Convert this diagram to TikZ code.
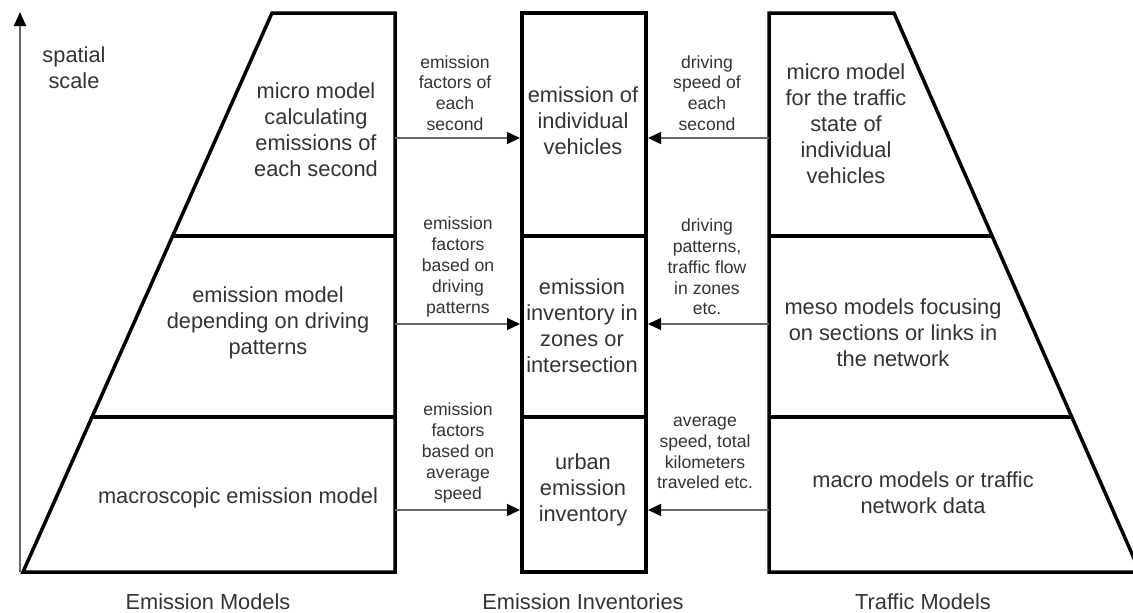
\documentclass[tikz,border=0pt]{standalone}
\usepackage{fontspec}
\setmainfont{Liberation Sans}
\usetikzlibrary{arrows.meta}
\begin{document}
\begin{tikzpicture}[x=1pt,y=-1pt,
  frame/.style={line width=3.5pt, line join=miter, draw=black},
  maintext/.style={align=center, text=black!80, font=\fontsize{21.8}{26}\selectfont, inner sep=0pt},
  lbl/.style={align=center, text=black!80, font=\fontsize{17.6}{20.8}\selectfont, inner sep=0pt},
  conn/.style={draw=black!60, line width=1.3pt, -{Triangle[length=13pt,width=12pt,color=black]}},
  axis/.style={draw=black!60, line width=1.8pt, -{Triangle[length=14pt,width=12pt,color=black]}},
]
\useasboundingbox (0,0) rectangle (1133,613);

% axis
\coordinate (ax0) at (20,572);
\coordinate (ax1) at (20,12);
\draw[axis] (ax0) -- (ax1);
\node[maintext] (spatial) at (74,68) {spatial\\scale};

% left trapezoid (emission models)
\draw[frame] (272,13) -- (395,13) -- (395,572) -- (23,572) -- cycle;
\draw[frame] (172.7,236) -- (395,236);
\draw[frame] (92,417) -- (395,417);

% middle rectangle (emission inventories)
\draw[frame] (522,13) rectangle (646,572);
\draw[frame] (522,236) -- (646,236);
\draw[frame] (522,417) -- (646,417);

% right trapezoid (traffic models)
\draw[frame] (769,13) -- (894,13) -- (1140,572) -- (769,572) -- cycle;
\draw[frame] (769,236) -- (992,236);
\draw[frame] (769,417) -- (1071,417);

% texts
\node[maintext] (L1) at (316,130) {micro model\\calculating\\emissions of\\each second};
\node[maintext] (L2) at (268,323) {emission model\\depending on driving\\patterns};
\node[maintext] (L3) at (238,498) {macroscopic emission model};

\node[maintext] (M1) at (583,121) {emission of\\individual\\vehicles};
\node[maintext] (M2) at (582,326) {emission\\inventory in\\zones or\\intersection};
\node[maintext] (M3) at (583,490) {urban\\emission\\inventory};

\node[maintext] (R1) at (846,124) {micro model\\for the traffic\\state of\\individual\\vehicles};
\node[maintext] (R2) at (893,333) {meso models focusing\\on sections or links in\\the network};
\node[maintext] (R3) at (923,493) {macro models or traffic\\network data};

% connector endpoints
\coordinate (la1) at (395,138);
\coordinate (ma1) at (520,138);
\coordinate (ra1) at (769,138);
\coordinate (mb1) at (648,138);
\coordinate (la2) at (395,324);
\coordinate (ma2) at (520,324);
\coordinate (ra2) at (769,324);
\coordinate (mb2) at (648,324);
\coordinate (la3) at (395,510);
\coordinate (ma3) at (520,510);
\coordinate (ra3) at (769,510);
\coordinate (mb3) at (648,510);

\draw[conn] (la1) -- (ma1);
\draw[conn] (ra1) -- (mb1);
\draw[conn] (la2) -- (ma2);
\draw[conn] (ra2) -- (mb2);
\draw[conn] (la3) -- (ma3);
\draw[conn] (ra3) -- (mb3);

% connector labels
\node[lbl] (a1) at (455,93) {emission\\factors of\\each\\second};
\node[lbl] (b1) at (707,93) {driving\\speed of\\each\\second};
\node[lbl] (a2) at (458,267) {emission\\factors\\based on\\driving\\patterns};
\node[lbl] (b2) at (707,267) {driving\\patterns,\\traffic flow\\in zones\\etc.};
\node[lbl] (a3) at (458,453) {emission\\factors\\based on\\average\\speed};
\node[lbl] (b3) at (705,453) {average\\speed, total\\kilometers\\traveled etc.};

% column titles
\node[maintext] (t1) at (208,602) {Emission Models};
\node[maintext] (t2) at (583,602) {Emission Inventories};
\node[maintext] (t3) at (923,602) {Traffic Models};
\end{tikzpicture}
\end{document}
